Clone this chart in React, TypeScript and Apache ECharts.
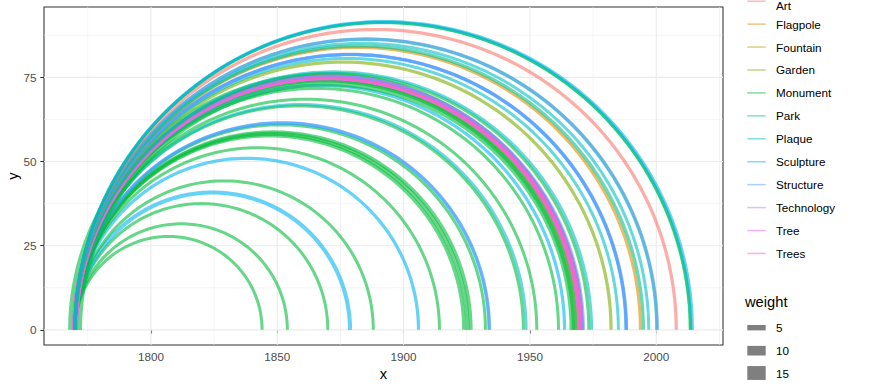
import React, { useEffect, useRef } from "react";
import * as echarts from "echarts";

// ---------- data ----------
const categories = ["Art", "Flagpole", "Fountain", "Garden", "Monument", "Park", "Plaque", "Sculpture", "Structure", "Technology", "Tree", "Trees"];
const categoryColors = ["#F8766D", "#DE8C00", "#B79F00", "#7CAE00", "#00BA38", "#00C08B", "#00BFC4", "#00B4F0", "#619CFF", "#C77CFF", "#F564E3", "#FF64B0"];

const arcType = [
  "Monument", "Monument", "Monument", "Sculpture", "Monument", "Sculpture", "Monument",
  "Monument", "Monument", "Monument", "Monument", "Sculpture", "Structure",
  "Monument", "Plaque", "Monument", "Monument", "Sculpture",
  "Fountain", "Monument", "Monument", "Technology", "Technology", "Tree", "Tree", "Trees", "Structure",
  "Monument", "Plaque", "Garden", "Plaque", "Sculpture", "Structure", "Structure",
  "Flagpole", "Park", "Plaque", "Park", "Structure", "Art", "Monument", "Park", "Sculpture",
];
const arcStart = [
  1770, 1770, 1770, 1770, 1770, 1770, 1770,
  1770, 1770, 1770, 1770, 1770, 1770,
  1770, 1770, 1770, 1770, 1770,
  1770, 1770, 1770, 1770, 1770, 1770, 1770, 1770, 1770,
  1770, 1770, 1770, 1770, 1770, 1770, 1770,
  1770, 1770, 1770, 1770, 1770, 1770, 1770, 1770, 1770,
];
const arcEnd = [
  1844, 1854, 1870, 1878.8, 1888, 1905.9, 1914.2,
  1923.9, 1925.3, 1926.6, 1932.4, 1933.8, 1934.0,
  1947.4, 1948.5, 1952.7, 1961.3, 1963.7,
  1968.3, 1968.4, 1967.2, 1970.0, 1970.1, 1970.2, 1970.0, 1970.1, 1971.2,
  1973.3, 1974.4, 1982.1, 1985.0, 1988.0, 1988.2, 1988.1,
  1993.7, 1994.9, 1997.0, 2000.2, 2000.4, 2007.9, 2013.4, 2013.6, 2014.3,
];
const arcWeight = [
  2.2, 2.2, 2.2, 3.5, 2.2, 2.5, 2.2,
  3, 3.5, 3, 2.2, 2.5, 2.5,
  2.2, 2.2, 2.2, 2.2, 2.5,
  2, 15, 2.5, 5.5, 5.5, 5.5, 5.5, 3, 2.2,
  2.2, 2.2, 2.5, 2.2, 2.5, 2.5, 2.2,
  2.2, 2.5, 2.2, 2.5, 2.5, 2.5, 2.2, 2.5, 2.2,
];

const xTicks = [1800, 1850, 1900, 1950, 2000];
const xMinor = [1775, 1825, 1875, 1925, 1975, 2025];
const yTicks = [0, 25, 50, 75];
const yMinor = [12.5, 37.5, 62.5, 87.5];
const weightBreaks = [5, 10, 15];

// ---------- layout / style ----------
const X_MIN = 1757.7;
const X_MAX = 2026.4;
const Y_MIN = -4.5;
const Y_MAX = 95.9;
const ARC_HEIGHT_RATIO = 0.75;
const ALPHA = 0.6;
const FONT = "'Liberation Sans', Arial, Helvetica, sans-serif";
const GRID = { left: 44, top: 7, right: 147, bottom: 43 };

const weightToPx = (w: number) => 1.13 + 0.85 * w;

function arcPoints(s: number, e: number) {
  const c = (s + e) / 2;
  const r = (e - s) / 2;
  const pts: number[][] = [];
  const N = 120;
  for (let k = 0; k <= N; k++) {
    const t = (Math.PI * k) / N;
    pts.push([c - r * Math.cos(t), ARC_HEIGHT_RATIO * r * Math.sin(t)]);
  }
  return pts;
}

export default function App() {
  const ref = useRef<HTMLDivElement>(null);
  useEffect(() => {
    if (!ref.current) return;
    const chart = echarts.init(ref.current, null, { renderer: "svg" });

    const gridSeries: any[] = [];
    const gl = (data: number[][], width: number) => ({
      type: "line",
      data,
      silent: true,
      showSymbol: false,
      symbol: "none",
      z: 0,
      lineStyle: { color: "#EBEBEB", width },
      clip: true,
    });
    xMinor.forEach((v) => gridSeries.push(gl([[v, Y_MIN], [v, Y_MAX]], 0.55)));
    yMinor.forEach((v) => gridSeries.push(gl([[X_MIN, v], [X_MAX, v]], 0.55)));
    xTicks.forEach((v) => gridSeries.push(gl([[v, Y_MIN], [v, Y_MAX]], 1.07)));
    yTicks.forEach((v) => gridSeries.push(gl([[X_MIN, v], [X_MAX, v]], 1.07)));

    const arcSeries = arcType.map((t, i) => {
      const ci = categories.indexOf(t);
      return {
        name: t,
        type: "line",
        data: arcPoints(arcStart[i], arcEnd[i]),
        showSymbol: false,
        symbol: "none",
        silent: true,
        z: 2,
        lineStyle: { color: categoryColors[ci], width: weightToPx(arcWeight[i]), opacity: ALPHA, cap: "butt", join: "round" },
      };
    });

    const graphics: any[] = [];
    const LEG_X = 747.3;
    const KEY_W = 18.4;
    categories.forEach((c, i) => {
      const y = 1.2 + 22.93 * i;
      graphics.push({
        type: "line",
        shape: { x1: LEG_X, y1: y, x2: LEG_X + KEY_W, y2: y },
        style: { stroke: categoryColors[i], lineWidth: 1.5, opacity: 0.5 },
      });
      graphics.push({
        type: "text",
        x: 776,
        y: Math.max(y, 5),
        style: { text: c, fill: "#000", font: `11.7px ${FONT}`, textVerticalAlign: "middle", textAlign: "left" },
      });
    });
    graphics.push({
      type: "text",
      x: 745,
      y: 302.3,
      style: { text: "weight", fill: "#000", font: `14.7px ${FONT}`, textVerticalAlign: "middle", textAlign: "left" },
    });
    const wY = [327.7, 350.7, 373];
    weightBreaks.forEach((w, i) => {
      const h = weightToPx(w);
      graphics.push({
        type: "rect",
        shape: { x: LEG_X, y: wY[i] - h / 2, width: KEY_W, height: h },
        style: { fill: "#000", opacity: 0.5 },
      });
      graphics.push({
        type: "text",
        x: 776,
        y: wY[i],
        style: { text: String(w), fill: "#000", font: `11.7px ${FONT}`, textVerticalAlign: "middle", textAlign: "left" },
      });
    });

    chart.setOption({
      animation: false,
      backgroundColor: "#fff",
      textStyle: { fontFamily: FONT },
      grid: { ...GRID, show: true, borderColor: "#333333", borderWidth: 1.07, backgroundColor: "#fff", containLabel: false, outerBoundsMode: "none" },
      xAxis: {
        type: "value",
        min: X_MIN,
        max: X_MAX,
        name: "x",
        nameLocation: "middle",
        nameGap: 21,
        nameMoveOverlap: false,
        nameTextStyle: { fontSize: 14.7, color: "#000", fontFamily: FONT },
        axisLine: { show: false },
        splitLine: { show: false },
        axisTick: { show: true, customValues: xTicks, length: 3.7, lineStyle: { color: "#333333", width: 1.07 } },
        axisLabel: { customValues: xTicks, margin: 5.5, fontSize: 11.7, color: "#4D4D4D", fontFamily: FONT, formatter: (v: number) => String(v) },
      },
      yAxis: {
        type: "value",
        min: Y_MIN,
        max: Y_MAX,
        name: "y",
        nameLocation: "middle",
        nameGap: 24,
        nameMoveOverlap: false,
        nameTextStyle: { fontSize: 14.7, color: "#000", fontFamily: FONT },
        axisLine: { show: false },
        splitLine: { show: false },
        axisTick: { show: true, customValues: yTicks, length: 3.7, lineStyle: { color: "#333333", width: 1.07 } },
        axisLabel: { customValues: yTicks, margin: 7.5, fontSize: 11.7, color: "#4D4D4D", fontFamily: FONT, formatter: (v: number) => String(v) },
      },
      series: [...gridSeries, ...arcSeries],
      graphic: graphics,
    });
    return () => chart.dispose();
  }, []);
  return <div ref={ref} style={{ width: 870, height: 388, position: "absolute", left: 0, top: 0 }} />;
}
